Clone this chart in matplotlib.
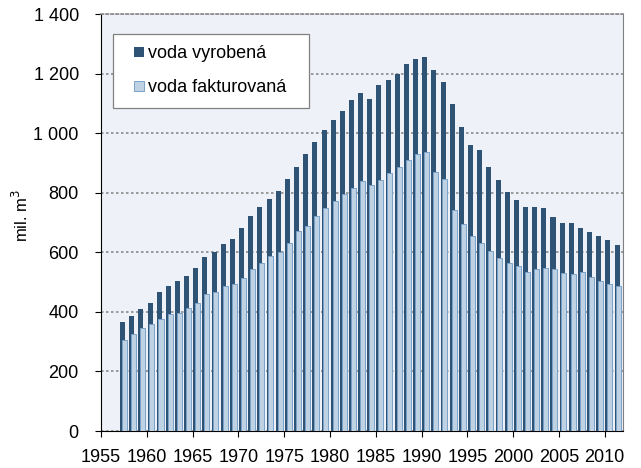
import matplotlib.pyplot as plt
from matplotlib.patches import Rectangle
from matplotlib.legend_handler import HandlerPatch
from matplotlib.ticker import FuncFormatter

plt.rcParams['font.family'] = ['Liberation Sans', 'DejaVu Sans']

# annual data, mil. m3
years = list(range(1957, 2012))
vyrobena = [365, 385, 411, 430, 468, 488, 505, 520, 546, 584,
            601, 629, 645, 680, 721, 751, 779, 805, 847, 888,
            930, 970, 1009, 1045, 1074, 1111, 1136, 1114, 1161, 1179,
            1199, 1231, 1250, 1255, 1211, 1173, 1097, 1020, 959, 943,
            886, 844, 801, 777, 753, 753, 750, 719, 698, 698,
            683, 668, 655, 642, 624]
fakturovana = [305, 326, 346, 359, 376, 392, 396, 412, 431, 460,
               466, 487, 493, 513, 543, 563, 587, 600, 632, 671,
               688, 721, 750, 772, 796, 816, 839, 825, 842, 866,
               886, 910, 930, 937, 868, 845, 742, 696, 655, 630,
               604, 581, 564, 554, 535, 545, 547, 544, 530, 528,
               533, 517, 503, 492, 487]

dark = '#2f5374'
light = '#bfd2e4'


def square_right(legend, orig_handle, xdescent, ydescent, width, height, fontsize):
    # small square sitting at the right end of the handle box
    s = 0.58 * fontsize
    return Rectangle((width - s - xdescent, (height - s) / 2 - ydescent), s, s)


fig = plt.figure(figsize=(6.41, 4.68), dpi=100)
ax = fig.add_axes([0.1576, 0.079, 0.8144, 0.891])
ax.set_facecolor('#eef1f7')

b1 = ax.bar([y + 0.35 for y in years], vyrobena, width=0.55, color=dark, zorder=3)
b2 = ax.bar([y + 0.55 for y in years], fakturovana, width=0.55, color=light,
            edgecolor='#7aa2c8', linewidth=0.7, zorder=4)

ax.set_xlim(1955, 2012)
ax.set_ylim(0, 1400)
ax.set_xticks(range(1955, 2011, 5))
ax.set_yticks(range(0, 1401, 200))
ax.yaxis.set_major_formatter(FuncFormatter(lambda v, p: f'{int(v):,}'.replace(',', ' ')))
ax.tick_params(axis='both', direction='out', length=4, labelsize=13, width=0.8)
ax.tick_params(axis='y', pad=12)
ax.tick_params(axis='x', pad=9)
ax.grid(axis='y', linestyle=(0, (1.5, 1.5)), color='#8a8a8a', linewidth=1.2, zorder=1)

ax.spines['top'].set_color('#8a8a8a')
ax.spines['top'].set_linestyle((0, (1.5, 1.5)))
ax.spines['top'].set_linewidth(1.2)
ax.spines['right'].set_color('#808080')
ax.spines['left'].set_color('black')
ax.spines['bottom'].set_color('black')

ax.set_ylabel('mil. m$^3$', fontsize=12)
ax.yaxis.set_label_coords(-0.135, 0.516)

leg = ax.legend([b1.patches[0], b2.patches[0]], ['voda vyrobená', 'voda fakturovaná'],
                loc='upper left', bbox_to_anchor=(0.023, 0.0, 0.375, 0.952),
                mode='expand', borderaxespad=0, fontsize=13,
                fancybox=False, edgecolor='#808080', framealpha=1,
                handlelength=1.1, handleheight=0.7, handletextpad=0.2,
                labelspacing=0.95, borderpad=0.62,
                handler_map={Rectangle: HandlerPatch(patch_func=square_right)})
leg.get_frame().set_linewidth(0.9)

fig.savefig('out.png', dpi=100)
